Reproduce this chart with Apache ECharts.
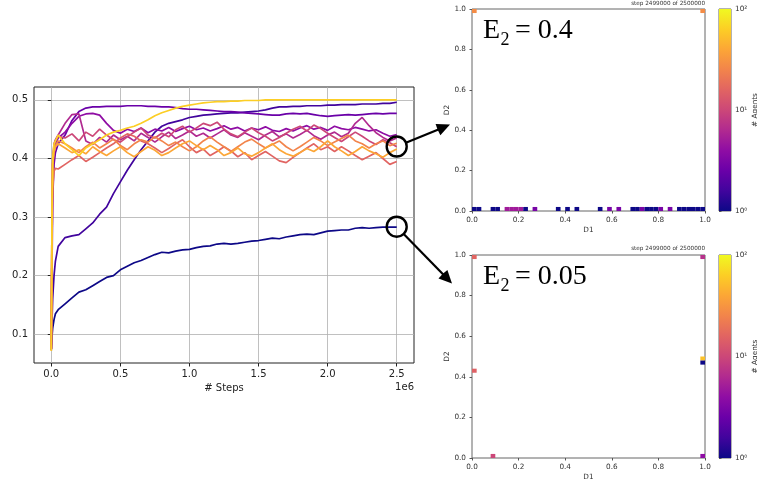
<!DOCTYPE html>
<html><head><meta charset="utf-8">
<script src="https://cdn.jsdelivr.net/npm/echarts@6/dist/echarts.min.js"></script>
<style>html,body{margin:0;padding:0;background:#fff}#c{width:757px;height:479px}</style>
</head><body><div id="c"></div>
<script>
// x values in units of 1e6 steps
const steps = [0,0.005,0.01,0.02,0.03,0.05,
  0.1,0.15,0.2,0.25,0.3,0.35,0.4,0.45,0.5,0.55,
  0.6,0.65,0.7,0.75,0.8,0.85,0.9,0.95,1.0,1.05,
  1.1,1.15,1.2,1.25,1.3,1.35,1.4,1.45,1.5,1.55,
  1.6,1.65,1.7,1.75,1.8,1.85,1.9,1.95,2.0,2.05,
  2.1,2.15,2.2,2.25,2.3,2.35,2.4,2.45,2.5];

const varA = [0.073,0.095,0.11,0.125,0.135,0.142,
  0.152,0.162,0.172,0.176,0.183,0.19,0.197,0.2,0.21,0.216,
  0.222,0.226,0.231,0.236,0.24,0.239,0.242,0.244,0.245,0.248,
  0.25,0.251,0.254,0.255,0.254,0.255,0.257,0.259,0.26,0.262,
  0.264,0.263,0.266,0.268,0.27,0.271,0.27,0.273,0.276,0.277,
  0.278,0.278,0.281,0.282,0.281,0.282,0.283,0.283,0.283];
const varB = [0.075,0.12,0.16,0.2,0.225,0.25,
  0.265,0.268,0.27,0.28,0.29,0.305,0.317,0.34,0.36,0.38,
  0.398,0.415,0.43,0.445,0.455,0.46,0.463,0.466,0.47,0.472,
  0.474,0.475,0.476,0.477,0.478,0.478,0.479,0.48,0.481,0.483,
  0.486,0.488,0.488,0.489,0.489,0.49,0.49,0.49,0.491,0.491,
  0.492,0.492,0.492,0.493,0.493,0.493,0.494,0.494,0.496];
const varC = [0.075,0.2,0.33,0.39,0.41,0.425,
  0.44,0.465,0.48,0.486,0.488,0.488,0.489,0.489,0.489,0.49,
  0.49,0.49,0.489,0.489,0.488,0.488,0.487,0.485,0.484,0.484,
  0.483,0.482,0.481,0.48,0.48,0.479,0.478,0.477,0.476,0.475,
  0.474,0.474,0.476,0.477,0.476,0.477,0.475,0.473,0.472,0.473,
  0.474,0.475,0.474,0.475,0.476,0.477,0.476,0.477,0.477];
const varD = [0.075,0.25,0.36,0.41,0.425,0.435,
  0.445,0.46,0.472,0.476,0.477,0.474,0.46,0.448,0.443,0.45,
  0.446,0.452,0.444,0.45,0.447,0.453,0.446,0.451,0.455,0.449,
  0.452,0.447,0.451,0.456,0.45,0.453,0.447,0.452,0.449,0.454,
  0.448,0.446,0.451,0.447,0.452,0.456,0.45,0.453,0.448,0.455,
  0.451,0.449,0.453,0.45,0.447,0.449,0.443,0.438,0.441];
const varE = [0.075,0.3,0.4,0.425,0.432,0.44,
  0.46,0.475,0.476,0.43,0.424,0.436,0.428,0.44,0.432,0.438,
  0.43,0.443,0.436,0.428,0.437,0.445,0.434,0.44,0.447,0.438,
  0.443,0.435,0.442,0.449,0.44,0.436,0.444,0.438,0.432,0.44,
  0.446,0.437,0.442,0.435,0.441,0.448,0.439,0.433,0.44,0.445,
  0.437,0.443,0.46,0.47,0.456,0.444,0.436,0.43,0.435];
const varF = [0.075,0.28,0.39,0.42,0.43,0.438,
  0.435,0.442,0.43,0.445,0.438,0.45,0.44,0.432,0.428,0.437,
  0.445,0.452,0.44,0.435,0.443,0.437,0.449,0.455,0.445,0.452,
  0.46,0.456,0.462,0.45,0.442,0.437,0.445,0.452,0.444,0.438,
  0.43,0.436,0.443,0.45,0.455,0.447,0.457,0.451,0.443,0.436,
  0.429,0.437,0.445,0.438,0.43,0.424,0.432,0.427,0.42];
const varG = [0.075,0.25,0.35,0.378,0.383,0.382,
  0.39,0.398,0.405,0.395,0.402,0.41,0.418,0.425,0.435,0.442,
  0.438,0.43,0.425,0.418,0.41,0.417,0.425,0.432,0.42,0.41,
  0.416,0.405,0.412,0.42,0.413,0.403,0.41,0.398,0.405,0.412,
  0.404,0.396,0.393,0.402,0.41,0.418,0.425,0.415,0.42,0.412,
  0.42,0.413,0.405,0.398,0.404,0.41,0.4,0.39,0.395];
const varH = [0.075,0.3,0.39,0.415,0.422,0.43,
  0.425,0.418,0.41,0.42,0.428,0.418,0.425,0.433,0.422,0.415,
  0.425,0.432,0.428,0.437,0.43,0.422,0.428,0.42,0.413,0.42,
  0.43,0.437,0.428,0.42,0.412,0.42,0.428,0.433,0.425,0.418,
  0.424,0.43,0.42,0.413,0.42,0.428,0.436,0.43,0.422,0.428,
  0.434,0.44,0.43,0.425,0.418,0.425,0.43,0.422,0.426];
const varI = [0.072,0.3,0.39,0.41,0.42,0.425,
  0.418,0.41,0.415,0.408,0.42,0.412,0.405,0.413,0.42,0.41,
  0.403,0.412,0.42,0.414,0.405,0.41,0.418,0.425,0.43,0.422,
  0.415,0.422,0.415,0.405,0.41,0.418,0.408,0.404,0.41,0.418,
  0.425,0.415,0.408,0.404,0.41,0.417,0.412,0.42,0.43,0.42,
  0.413,0.405,0.412,0.42,0.413,0.408,0.402,0.41,0.416];
const varJ = [0.072,0.3,0.4,0.425,0.43,0.44,
  0.425,0.415,0.405,0.418,0.425,0.432,0.44,0.445,0.448,0.452,
  0.455,0.46,0.466,0.473,0.478,0.482,0.486,0.489,0.491,0.493,
  0.495,0.496,0.497,0.497,0.498,0.498,0.499,0.499,0.499,0.5,
  0.5,0.5,0.5,0.5,0.5,0.5,0.5,0.5,0.5,0.5,
  0.5,0.5,0.5,0.5,0.5,0.5,0.5,0.5,0.5];

const runs = [varA,varB,varC,varD,varE,varF,varG,varH,varI,varJ];
const runColors = ['#0d0887','#41049d','#6a00a8','#8f0da4','#b12a90','#cc4778','#e16462','#f2844b','#fca636','#fcce25'];

const xTicks = [0,0.5,1.0,1.5,2.0,2.5];
const yTicks = [0.1,0.2,0.3,0.4,0.5];

// histogram cells: [D1 bin start, D2 bin start, # agents]
const topCells = [[0,0,1],[0.02,0,1],[0.08,0,1],[0.10,0,1],[0.14,0,5],[0.16,0,5],[0.18,0,5],[0.20,0,5],
  [0.22,0,1],[0.26,0,3],[0.36,0,1],[0.40,0,1],[0.44,0,1],[0.54,0,1],[0.58,0,3],[0.62,0,3],
  [0.68,0,1],[0.70,0,1],[0.72,0,3],[0.74,0,1],[0.76,0,1],[0.78,0,1],[0.80,0,3],[0.84,0,3],
  [0.88,0,1],[0.90,0,1],[0.92,0,1],[0.94,0,1],[0.96,0,1],[0.98,0,1],[0,0.98,28],[0.98,0.98,28]];
const bottomCells = [[0,0.98,16],[0,0.42,15],[0.08,0,10],[0.98,0.98,7],[0.98,0.48,55],[0.98,0.46,1],[0.98,0,4]];
const BIN = 0.02;

const plasma = ['#0d0887','#41049d','#6a00a8','#8f0da4','#b12a90','#cc4778','#e16462','#f2844b','#fca636','#fcce25','#f0f921'];

const chart = echarts.init(document.getElementById('c'), null, {renderer:'canvas'});
const FONT = 'DejaVu Sans';

function cellRender(params, api){
  const x0 = api.value(0), y0 = api.value(1);
  const p0 = api.coord([x0, y0]);
  const p1 = api.coord([x0 + BIN, y0 + BIN]);
  return {type:'rect', shape:{x:p0[0], y:p1[1], width:p1[0]-p0[0], height:p0[1]-p1[1]},
          style:{fill: api.visual('color')}};
}
function barRender(params, api){
  const p0 = api.coord([0, 1]);
  const p1 = api.coord([1, 100]);
  return {type:'rect', shape:{x:p0[0], y:p1[1], width:p1[0]-p0[0], height:p0[1]-p1[1]},
    style:{fill:{type:'linear', x:0, y:1, x2:0, y2:0,
      colorStops: plasma.map((c,i)=>({offset:i/(plasma.length-1), color:c}))}}};
}

const lineSeries = runs.map((arr,k)=>({
  type:'line', xAxisIndex:0, yAxisIndex:0, showSymbol:false, symbol:'none',
  data: steps.map((s,i)=>[s, arr[i]]),
  lineStyle:{color:runColors[k], width:1.7}, itemStyle:{color:runColors[k]},
  z: 2 + k, animation:false, silent:true
}));

const smallAxisLabel = {fontSize:7.3, color:'#333', fontFamily:FONT};
function panelAxes(g){
  return {
    x: {type:'value', gridIndex:g, min:0, max:1, interval:0.2,
      axisLine:{show:false}, axisTick:{show:true, length:2.5, lineStyle:{color:'#555'}},
      axisLabel:Object.assign({margin:6, formatter:v=>v.toFixed(1)}, smallAxisLabel),
      splitLine:{show:false}, name:'D1', nameLocation:'middle', nameGap:16,
      nameTextStyle:{fontSize:7.3, color:'#333', fontFamily:FONT}},
    y: {type:'value', gridIndex:g, min:0, max:1, interval:0.2,
      axisLine:{show:false}, axisTick:{show:true, length:2.5, lineStyle:{color:'#555'}},
      axisLabel:Object.assign({margin:6, formatter:v=>v.toFixed(1)}, smallAxisLabel),
      splitLine:{show:false}, name:'D2', nameLocation:'middle', nameGap:20,
      nameTextStyle:{fontSize:7.3, color:'#333', fontFamily:FONT}}
  };
}
function barAxes(g){
  const sup = {1:'10\u2070', 10:'10\u00b9', 100:'10\u00b2'};
  return {
    x: {type:'value', gridIndex:g, min:0, max:1, show:false},
    y: {type:'log', logBase:10, gridIndex:g, min:1, max:100, position:'right',
      axisLine:{show:false}, axisTick:{show:true, length:2.5, lineStyle:{color:'#555'}},
      minorTick:{show:false},
      axisLabel:Object.assign({margin:4, formatter:v=>sup[Math.round(v)] || ''}, smallAxisLabel),
      splitLine:{show:false}, name:'# Agents', nameLocation:'middle', nameRotate:90, nameGap:16,
      nameTextStyle:{fontSize:7.3, color:'#333', fontFamily:FONT}}
  };
}
const pTop = panelAxes(1), bTop = barAxes(2), pBot = panelAxes(3), bBot = barAxes(4);

const option = {
  animation:false,
  backgroundColor:'#fff',
  textStyle:{fontFamily:FONT},
  grid:[
    {left:34, top:87, width:380, height:276, show:true, borderColor:'#222', borderWidth:1, backgroundColor:'transparent', outerBoundsMode:'none'},
    {left:472, top:9, width:233, height:202, show:true, borderColor:'#666', borderWidth:1, outerBoundsMode:'none'},
    {left:719, top:9, width:12, height:202, show:true, borderColor:'#666', borderWidth:1, outerBoundsMode:'none'},
    {left:472, top:255, width:233, height:203, show:true, borderColor:'#666', borderWidth:1, outerBoundsMode:'none'},
    {left:719, top:255, width:12, height:203, show:true, borderColor:'#666', borderWidth:1, outerBoundsMode:'none'}
  ],
  xAxis:[
    {type:'value', gridIndex:0, min:-0.125, max:2.625,
      axisLine:{show:false},
      axisTick:{show:true, length:3.5, customValues:xTicks, lineStyle:{color:'#222'}},
      axisLabel:{customValues:xTicks, formatter:v=>v.toFixed(1), fontSize:10, color:'#222', margin:6, fontFamily:FONT},
      splitLine:{show:true, lineStyle:{color:'#b0b0b0', width:0.8}},
      name:'# Steps', nameLocation:'middle', nameGap:18,
      nameTextStyle:{fontSize:10, color:'#222', fontFamily:FONT}},
    pTop.x, bTop.x, pBot.x, bBot.x
  ],
  yAxis:[
    {type:'value', gridIndex:0, min:0.051, max:0.522,
      axisLine:{show:false},
      axisTick:{show:true, length:3.5, customValues:yTicks, lineStyle:{color:'#222'}},
      axisLabel:{customValues:yTicks, formatter:v=>v.toFixed(1), fontSize:10, color:'#222', margin:6, fontFamily:FONT},
      splitLine:{show:true, lineStyle:{color:'#b0b0b0', width:0.8}},
      name:'variance', nameLocation:'middle', nameGap:24,
      nameTextStyle:{fontSize:10, color:'#222', fontFamily:FONT}},
    pTop.y, bTop.y, pBot.y, bBot.y
  ],
  visualMap:[{
    show:false, type:'continuous', min:0, max:2, dimension:3, seriesIndex:[10,12],
    inRange:{color:plasma}
  }],
  series: lineSeries.concat([
    {type:'custom', xAxisIndex:1, yAxisIndex:1, renderItem:cellRender, encode:{x:0,y:1},
      data: topCells.map(c=>[c[0], c[1], c[2], Math.log10(c[2])]), silent:true},
    {type:'custom', xAxisIndex:2, yAxisIndex:2, renderItem:barRender, encode:{x:0,y:1},
      data:[[0,1]], silent:true},
    {type:'custom', xAxisIndex:3, yAxisIndex:3, renderItem:cellRender, encode:{x:0,y:1},
      data: bottomCells.map(c=>[c[0], c[1], c[2], Math.log10(c[2])]), silent:true},
    {type:'custom', xAxisIndex:4, yAxisIndex:4, renderItem:barRender, encode:{x:0,y:1},
      data:[[0,1]], silent:true}
  ]),
  graphic:[
    {type:'text', x:414, y:387, style:{text:'1e6', fontSize:10, fontFamily:FONT, fill:'#222', align:'right', verticalAlign:'middle'}},
    {type:'text', x:705, y:4, style:{text:'step 2499000 of 2500000', fontSize:5.7, fontFamily:FONT, fill:'#333', align:'right', verticalAlign:'middle'}},
    {type:'text', x:705, y:249, style:{text:'step 2499000 of 2500000', fontSize:5.7, fontFamily:FONT, fill:'#333', align:'right', verticalAlign:'middle'}},
    // E2 labels
    {type:'text', x:483, y:31, style:{text:'E', fontSize:28, fontFamily:'Liberation Serif', fill:'#000', align:'left', verticalAlign:'middle'}},
    {type:'text', x:500.5, y:40, style:{text:'2', fontSize:18, fontFamily:'Liberation Serif', fill:'#000', align:'left', verticalAlign:'middle'}},
    {type:'text', x:515, y:31, style:{text:'= 0.4', fontSize:28, fontFamily:'Liberation Serif', fill:'#000', align:'left', verticalAlign:'middle'}},
    {type:'text', x:483, y:277, style:{text:'E', fontSize:28, fontFamily:'Liberation Serif', fill:'#000', align:'left', verticalAlign:'middle'}},
    {type:'text', x:500.5, y:286, style:{text:'2', fontSize:18, fontFamily:'Liberation Serif', fill:'#000', align:'left', verticalAlign:'middle'}},
    {type:'text', x:515, y:277, style:{text:'= 0.05', fontSize:28, fontFamily:'Liberation Serif', fill:'#000', align:'left', verticalAlign:'middle'}},
    // circles
    {type:'circle', shape:{cx:396.7, cy:146.5, r:10}, style:{fill:'none', stroke:'#000', lineWidth:2.4}, z:100},
    {type:'circle', shape:{cx:396.7, cy:226.7, r:10}, style:{fill:'none', stroke:'#000', lineWidth:2.4}, z:100},
    // arrows
    {type:'line', shape:{x1:405.9, y1:142.8, x2:439, y2:129.2}, style:{stroke:'#000', lineWidth:2.2}, z:100},
    {type:'polygon', shape:{points:[[450,124.5],[440.4,135.2],[437.5,129.6],[435.6,124.0]]}, style:{fill:'#000'}, z:100},
    {type:'line', shape:{x1:403.7, y1:233.9, x2:443.5, y2:274.8}, style:{stroke:'#000', lineWidth:2.2}, z:100},
    {type:'polygon', shape:{points:[[452,283.5],[438.5,278.5],[442.5,274],[447.4,269.9]]}, style:{fill:'#000'}, z:100}
  ]
};
chart.setOption(option);
</script>
</body></html>
